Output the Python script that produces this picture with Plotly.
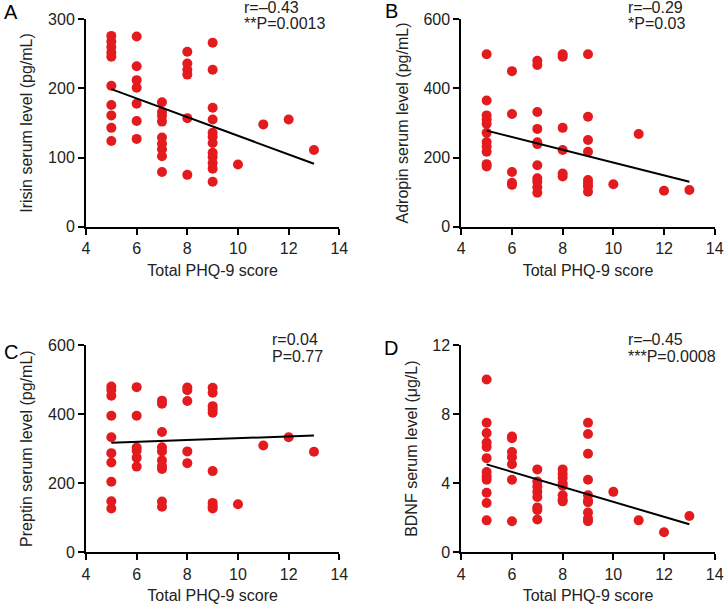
import plotly.graph_objects as go

# ---------------- data ----------------
a_x = [5]*10 + [6]*7 + [7]*9 + [8]*6 + [9]*12 + [10, 11, 12, 13]
a_y = [276, 268, 260, 252, 246, 204, 176, 161, 143, 124,
       275, 232, 212, 201, 178, 153, 127,
       180, 166, 160, 152, 129, 120, 112, 102, 79,
       253, 236, 227, 220, 157, 75,
       266, 227, 172, 155, 136, 130, 121, 107, 101, 92, 84, 65,
       90, 148, 155, 111]
a_fit_x = [5, 13]
a_fit_y = [199, 91]

b_x = [5]*11 + [6]*5 + [7]*11 + [8]*6 + [9]*8 + [10, 11, 12, 13]
b_y = [499, 365, 322, 310, 298, 272, 245, 232, 217, 181, 174,
       450, 326, 158, 127, 121,
       480, 468, 332, 283, 244, 239, 178, 140, 130, 114, 98,
       499, 492, 286, 222, 154, 145,
       499, 318, 251, 217, 135, 125, 116, 101,
       123, 268, 104, 106]
b_fit_x = [5, 13]
b_fit_y = [278, 130]

c_x = [5]*10 + [6]*6 + [7]*10 + [8]*5 + [9]*9 + [10, 11, 12, 13]
c_y = [480, 470, 453, 395, 333, 287, 260, 204, 148, 127,
       478, 395, 303, 294, 274, 248,
       439, 430, 348, 304, 292, 266, 250, 241, 147, 132,
       477, 469, 438, 292, 258,
       476, 462, 423, 413, 404, 235, 143, 133, 127,
       139, 309, 333, 291]
c_fit_x = [5, 13]
c_fit_y = [317, 338]

d_x = [5]*12 + [6]*7 + [7]*8 + [8]*8 + [9]*10 + [10, 11, 12, 13]
d_y = [10.0, 7.5, 6.9, 6.35, 6.1, 5.45, 4.65, 4.4, 4.2, 3.45, 2.85, 1.85,
       6.7, 6.6, 5.8, 5.5, 5.1, 4.2, 1.8,
       4.8, 4.1, 3.8, 3.5, 3.2, 2.6, 2.45, 1.9,
       4.8, 4.55, 4.3, 4.0, 3.85, 3.3, 3.05, 2.95,
       7.5, 6.85, 5.7, 4.2, 3.3, 3.0, 2.9, 2.3, 1.95, 1.8,
       3.5, 1.85, 1.16, 2.1]
d_fit_x = [5, 13]
d_fit_y = [5.09, 1.62]

x_ticks = [4, 6, 8, 10, 12, 14]
a_ticks = [0, 100, 200, 300]
b_ticks = [0, 200, 400, 600]
c_ticks = [0, 200, 400, 600]
d_ticks = [0, 4, 8, 12]

y_titles = ["Irisin serum level (pg/mL)", "Adropin serum level (pg/mL)",
            "Preptin serum level (pg/mL)", "BDNF serum level (μg/L)"]
x_title = "Total PHQ-9 score"
panel_letters = ["A", "B", "C", "D"]
stats_r = ["r=–0.43", "r=–0.29", "r=0.04", "r=–0.45"]
stats_p = ["**P=0.0013", "*P=0.03", "P=0.77", "***P=0.0008"]

# ---------------- figure ----------------
W, H = 724, 604
RED = "#e31b1f"
FONT = "Liberation Sans, Arial, sans-serif"
TXT = "#222"

panels = [
    (a_x, a_y, a_fit_x, a_fit_y, a_ticks),
    (b_x, b_y, b_fit_x, b_fit_y, b_ticks),
    (c_x, c_y, c_fit_x, c_fit_y, c_ticks),
    (d_x, d_y, d_fit_x, d_fit_y, d_ticks),
]
# pixel boxes: (left, right, top, bottom)
boxes = [
    (86, 339.3, 19.3, 226.7),
    (461.3, 714.7, 19.3, 226.7),
    (86, 339.3, 345, 552.3),
    (461.3, 714.7, 345, 552.3),
]
letter_pos = [(2, 12), (383, 11), (2, 352), (382, 348)]
stats_pos = [(243, 7), (627, 7), (271, 339), (627, 339)]

fig = go.Figure()
layout = dict(
    width=W, height=H,
    margin=dict(l=0, r=0, t=0, b=0, autoexpand=False),
    paper_bgcolor="white", plot_bgcolor="white",
    showlegend=False,
    font=dict(family=FONT, size=16, color=TXT),
)
annotations = []
for i, ((px, py, fx, fy, yt), (l, r, t, b)) in enumerate(zip(panels, boxes)):
    n = "" if i == 0 else str(i + 1)
    xa, ya = "x" + n, "y" + n
    fig.add_trace(go.Scatter(x=px, y=py, mode="markers", xaxis=xa, yaxis=ya,
                             marker=dict(size=10, color=RED, line=dict(width=0)),
                             cliponaxis=False, hoverinfo="skip"))
    fig.add_trace(go.Scatter(x=fx, y=fy, mode="lines", xaxis=xa, yaxis=ya,
                             line=dict(color="black", width=2), cliponaxis=False,
                             hoverinfo="skip"))
    axcommon = dict(showline=True, linecolor="black", linewidth=2,
                    ticks="outside", ticklen=6, tickwidth=2, tickcolor="black",
                    showgrid=False, zeroline=False, automargin=False,
                    tickfont=dict(family=FONT, size=16, color=TXT))
    layout["xaxis" + n] = dict(
        domain=[l / W, r / W], range=[4, 14], tickvals=x_ticks,
        anchor=ya, title=dict(text=x_title, font=dict(family=FONT, size=16, color=TXT),
                              standoff=9),
        **axcommon)
    layout["yaxis" + n] = dict(
        domain=[1 - b / H, 1 - t / H], range=[0, yt[-1]], tickvals=yt,
        anchor=xa, title=dict(text=y_titles[i], font=dict(family=FONT, size=16, color=TXT),
                              standoff=11),
        **axcommon)
    lx, ly = letter_pos[i]
    annotations.append(dict(text=panel_letters[i], xref="paper", yref="paper",
                            x=lx / W, y=1 - ly / H,
                            xanchor="left", yanchor="middle", showarrow=False,
                            font=dict(family=FONT, size=20, color="black")))
    sx, sy = stats_pos[i]
    for k, txt in enumerate([stats_r[i], stats_p[i]]):
        annotations.append(dict(text=txt, xref="paper", yref="paper",
                                x=sx / W, y=1 - (sy + 17 * k) / H,
                                xanchor="left", yanchor="middle",
                                showarrow=False, borderpad=0,
                                font=dict(family=FONT, size=16, color=TXT)))
layout["annotations"] = annotations
fig.update_layout(**layout)
fig.write_html("out.html", config={"displayModeBar": False, "staticPlot": True},
               post_script="document.body.style.margin='0px';document.body.style.overflow='hidden';")
